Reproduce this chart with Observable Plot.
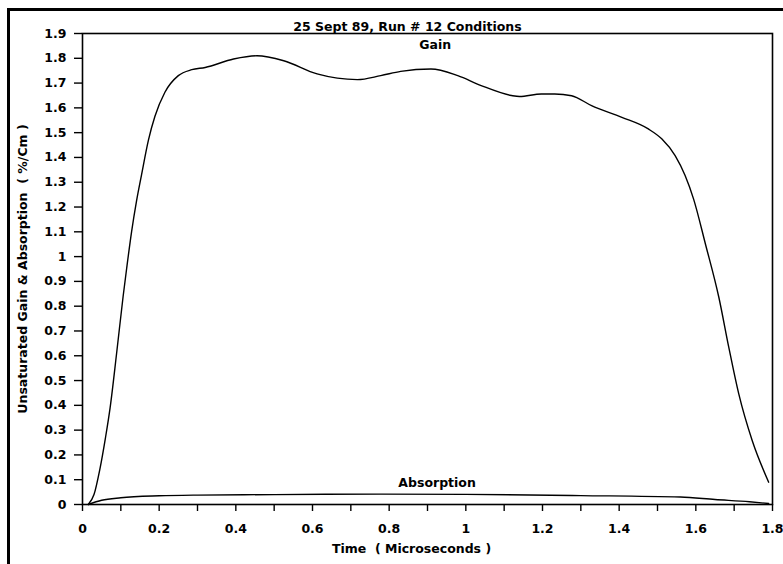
<!DOCTYPE html>
<html>
<head>
<meta charset="utf-8">
<script src="https://cdn.jsdelivr.net/npm/d3@7"></script>
<script src="https://cdn.jsdelivr.net/npm/@observablehq/plot@0.6"></script>
<style>
  html, body { margin: 0; padding: 0; background: #fff; }
  #wrap { position: relative; width: 783px; height: 564px; overflow: hidden; }
  #border { position: absolute; left: 7px; top: 8px; width: 790px; height: 600px;
            border-left: 3px solid #000; border-top: 3px solid #000; pointer-events: none; }
</style>
</head>
<body>
<div id="wrap"><div id="border"></div></div>
<script>
const titleText = "25 Sept 89, Run # 12 Conditions";
const xTitle = "Time  ( Microseconds )";
const yTitle = "Unsaturated Gain & Absorption  ( %/Cm )";

// Gain curve: time (microseconds), gain (%/cm)
const gainTime = [0.015, 0.03, 0.045, 0.06, 0.072, 0.089, 0.106, 0.115, 0.128, 0.141, 0.154, 0.172, 0.189, 0.215, 0.25, 0.285, 0.32, 0.394, 0.455, 0.525, 0.612, 0.717, 0.778, 0.83, 0.909, 0.979, 1.04, 1.119, 1.14, 1.197, 1.232, 1.276, 1.328, 1.407, 1.476, 1.511, 1.546, 1.572, 1.594, 1.625, 1.66, 1.686, 1.712, 1.747, 1.79];
const gainValue = [0, 0.04, 0.14, 0.27, 0.39, 0.61, 0.84, 0.95, 1.10, 1.225, 1.33, 1.47, 1.566, 1.663, 1.73, 1.754, 1.763, 1.797, 1.81, 1.79, 1.737, 1.714, 1.73, 1.747, 1.757, 1.73, 1.69, 1.65, 1.646, 1.656, 1.656, 1.649, 1.609, 1.562, 1.515, 1.475, 1.407, 1.327, 1.233, 1.051, 0.836, 0.634, 0.446, 0.258, 0.09];

// Absorption curve
const absTime = [0.015, 0.05, 0.1, 0.2, 0.3, 0.5, 0.78, 1.0, 1.3, 1.56, 1.65, 1.74, 1.79];
const absValue = [0, 0.017, 0.027, 0.035, 0.038, 0.04, 0.042, 0.041, 0.036, 0.03, 0.02, 0.011, 0.004];

// Curve labels
const labelText = ["Gain", "Absorption"];
const labelTime = [0.92, 0.925];
const labelValue = [1.855, 0.085];

// Ticks
const xMinorTicks = [0, 0.1, 0.2, 0.3, 0.4, 0.5, 0.6, 0.7, 0.8, 0.9, 1, 1.1, 1.2, 1.3, 1.4, 1.5, 1.6, 1.7, 1.8];
const xTickLabels = [0, 0.2, 0.4, 0.6, 0.8, 1, 1.2, 1.4, 1.6, 1.8];
const yTickLabels = [0, 0.1, 0.2, 0.3, 0.4, 0.5, 0.6, 0.7, 0.8, 0.9, 1, 1.1, 1.2, 1.3, 1.4, 1.5, 1.6, 1.7, 1.8, 1.9];

const gain = gainTime.map((t, i) => ({t, v: gainValue[i]}));
const absorption = absTime.map((t, i) => ({t, v: absValue[i]}));
const labels = labelText.map((s, i) => ({s, t: labelTime[i], v: labelValue[i]}));

const font = "DejaVu Sans, sans-serif";

const chart = Plot.plot({
  width: 783,
  height: 564,
  marginLeft: 82,
  marginRight: 11,
  marginTop: 33,
  marginBottom: 60,
  style: {fontFamily: font, fontSize: "12px", fontWeight: "bold", color: "#000", background: "transparent"},
  x: {domain: [0, 1.8], label: null},
  y: {domain: [0, 1.9], label: null},
  marks: [
    Plot.frame({stroke: "#000", strokeWidth: 1.6}),
    Plot.axisX({ticks: xMinorTicks, tickSize: 7, tickFormat: () => "", strokeWidth: 1.4}),
    Plot.axisX({ticks: xTickLabels, tickSize: 0, tickPadding: 20, tickFormat: d => String(d), fontSize: 12.5}),
    Plot.axisY({ticks: yTickLabels, tickSize: 8, tickPadding: 8, tickFormat: d => String(d), strokeWidth: 1.4, fontSize: 12.5}),
    Plot.line(gain, {x: "t", y: "v", curve: "monotone-x", stroke: "#000", strokeWidth: 1.4}),
    Plot.line(absorption, {x: "t", y: "v", curve: "monotone-x", stroke: "#000", strokeWidth: 1.4}),
    Plot.text(labels, {x: "t", y: "v", text: "s", fontSize: 12.5, fontWeight: "bold"}),
    Plot.text([titleText], {frameAnchor: "top", dy: -11, dx: -20, fontSize: 12.5, fontWeight: "bold"}),
    Plot.text([xTitle], {frameAnchor: "bottom", dy: 48, dx: -16, fontSize: 12.5, fontWeight: "bold"}),
    Plot.text([yTitle], {frameAnchor: "left", dx: -60, rotate: -90, textAnchor: "middle", fontSize: 12.5, fontWeight: "bold"})
  ]
});
document.getElementById("wrap").prepend(chart);
</script>
</body>
</html>
